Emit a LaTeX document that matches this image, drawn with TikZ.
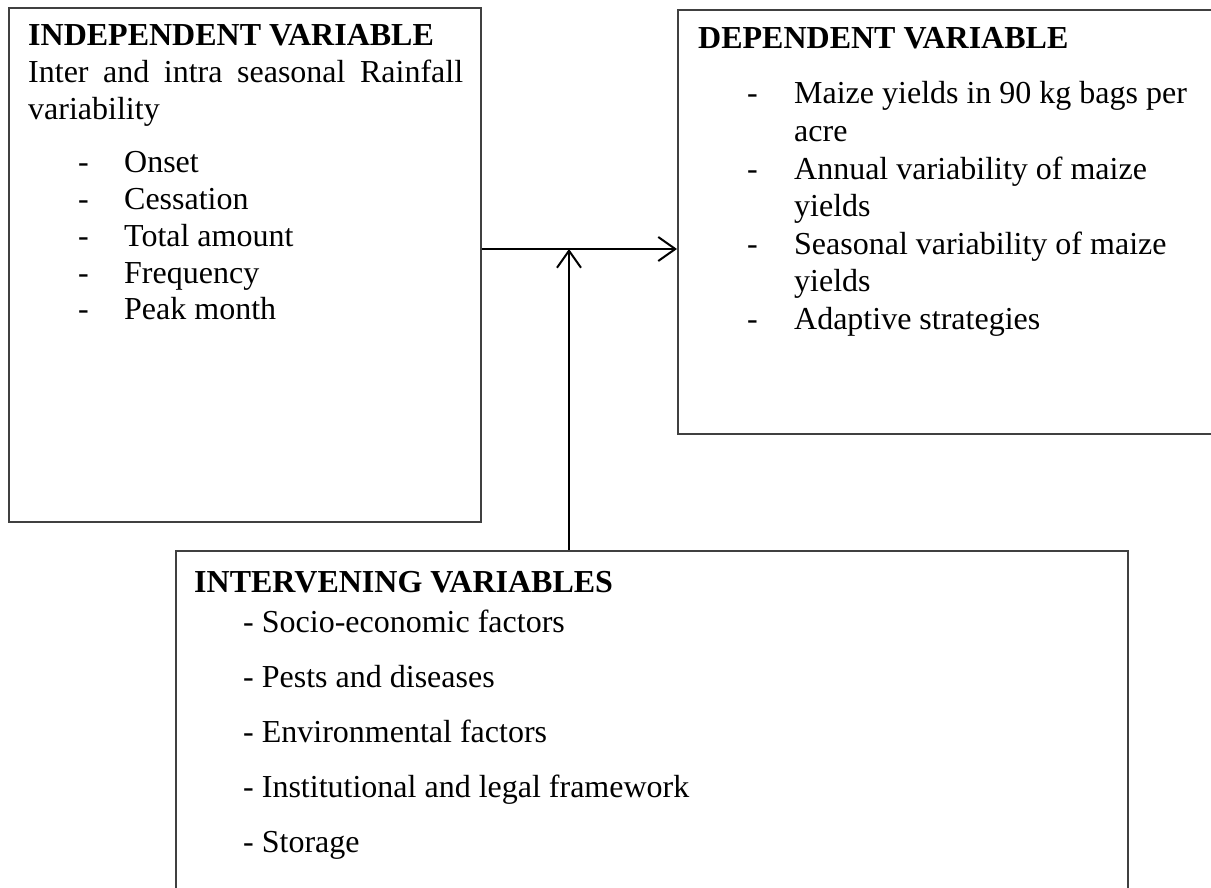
\documentclass[tikz,border=0pt]{standalone}
\usepackage{fontspec}
\setmainfont{Liberation Serif}
\usetikzlibrary{arrows.meta}
\definecolor{boxgray}{HTML}{404040}
\begin{document}
\begin{tikzpicture}[x=1pt,y=-1pt,
  box/.style={draw=boxgray, line width=2pt, inner sep=0pt, anchor=north west},
  txt/.style={anchor=base west, inner sep=0pt, font=\fontsize{32}{37}\selectfont},
  hd/.style={anchor=base west, inner sep=0pt, font=\fontsize{32}{37}\selectfont\bfseries},
  conn/.style={line width=2pt, -{Straight Barb[length=17pt,width=24pt,line width=2pt]}}]
\useasboundingbox (0,0) rectangle (1211,888);
\clip (0,0) rectangle (1211,888);
% boxes
\node[box, minimum width=472pt, minimum height=514pt] (indep) at (8,7) {};
\node[box, minimum width=560pt, minimum height=424pt] (dep) at (677,9) {};
\node[box, minimum width=952pt, minimum height=380pt] (interv) at (175,550) {};
% connectors
\coordinate (hy) at (0,249);
\coordinate (vx) at (569,0);
\draw[conn] (indep.east |- hy) -- (dep.west |- hy);
\draw[conn] (interv.north -| vx) -- (vx |- hy);
% independent variable
\node[hd] (h1) at (28,46) {INDEPENDENT VARIABLE};
\node[txt] (p1) at (28,83) {\makebox[435pt][s]{Inter and intra seasonal Rainfall}};
\node[txt] (p2) at (28,120) {variability};
\foreach \t [count=\i] in {Onset,Cessation,Total amount,Frequency,Peak month}
  \node[txt] (a\i) at (78,{173+36.7*(\i-1)}) {\makebox[46pt][l]{-}\t};
% dependent variable
\node[hd] (h2) at (698,49) {DEPENDENT VARIABLE};
\node[txt] (d1) at (747,104) {\makebox[47pt][l]{-}Maize yields in 90 kg bags per};
\node[txt] (d2) at (794,141.5) {acre};
\node[txt] (d3) at (747,179) {\makebox[47pt][l]{-}Annual variability of maize};
\node[txt] (d4) at (794,216.5) {yields};
\node[txt] (d5) at (747,254) {\makebox[47pt][l]{-}Seasonal variability of maize};
\node[txt] (d6) at (794,291.5) {yields};
\node[txt] (d7) at (747,329) {\makebox[47pt][l]{-}Adaptive strategies};
% intervening variables
\node[hd] (h3) at (194,592) {INTERVENING VARIABLES};
\foreach \t [count=\i] in {Socio-economic factors,Pests and diseases,Environmental factors,Institutional and legal framework,Storage}
  \node[txt] (b\i) at (243,{632+55*(\i-1)}) {- \t};
\end{tikzpicture}
\end{document}
